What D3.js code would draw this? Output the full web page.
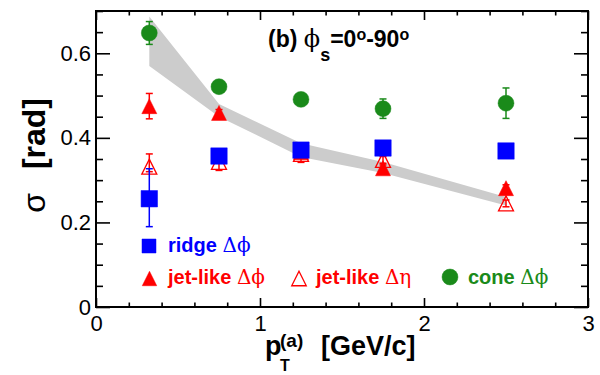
<!DOCTYPE html>
<html><head><meta charset="utf-8">
<script src="https://cdn.jsdelivr.net/npm/d3@7"></script>
<style>
body{margin:0;background:#fff}
svg{display:block}
text{font-family:"Liberation Sans",Arial,Helvetica,sans-serif}
.gr{font-family:"DejaVu Serif","Liberation Serif",serif;font-weight:normal}
</style>
</head><body>
<svg id="chart" width="600" height="375"></svg>
<script>
// ---- data ----
const ptA = [0.325, 0.75, 1.25, 1.75, 2.5];

const ridgeDphi   = [0.256, 0.357, 0.371, 0.376, 0.369];
const ridgeErrHi  = [0.071, 0.006, 0.006, 0.006, 0.006];
const ridgeErrLo  = [0.066, 0.006, 0.006, 0.006, 0.006];

const jetDphi     = [0.475, 0.459, 0.366, 0.328, 0.281];
const jetDphiErr  = [0.030, 0.008, 0.008, 0.008, 0.008];

const jetDeta     = [0.332, 0.343, 0.362, 0.348, 0.245];
const jetDetaErrHi = [0.030, 0.008, 0.008, 0.008, 0.008];
const jetDetaErrLo = [0.012, 0.020, 0.020, 0.008, 0.008];

const coneDphi    = [0.648, 0.521, 0.491, 0.469, 0.482];
const coneErr     = [0.027, 0.008, 0.008, 0.023, 0.036];

const bandX  = [0.325, 0.75, 1.25, 1.75, 2.5];
const bandHi = [0.687, 0.480, 0.387, 0.343, 0.260];
const bandLo = [0.570, 0.450, 0.355, 0.317, 0.240];

const xMajor = [0, 1, 2, 3];
const xTickLabels = ["0", "1", "2", "3"];
const yMajor = [0, 0.2, 0.4, 0.6];
const yTickLabels = ["0", "0.2", "0.4", "0.6"];

// ---- layout ----
const L = 96, R = 588, T = 11, B = 307;
const BLUE = "#0000ff", RED = "#ff0000", GREEN = "#1a8a1a";

const svg = d3.select("#chart");
const x = d3.scaleLinear().domain([0, 3]).range([L, R]);
const y = d3.scaleLinear().domain([0, 0.7]).range([B, T]);

// band
const bandData = bandX.map((v, i) => ({x: v, hi: bandHi[i], lo: bandLo[i]}));
svg.append("path")
  .datum(bandData)
  .attr("fill", "#cccccc")
  .attr("d", d3.area().x(d => x(d.x)).y0(d => y(d.lo)).y1(d => y(d.hi)));

// axes
const xMinor = d3.range(0, 3.0001, 0.2).filter(v => Math.abs(v - Math.round(v)) > 1e-6);
const yMinor = d3.range(0, 0.7001, 0.05).filter(v => Math.abs(v / 0.2 - Math.round(v / 0.2)) > 1e-6);

function styleAxis(g) {
  g.select(".domain").remove();
  g.selectAll("line").attr("stroke", "#000").attr("stroke-width", 1.6);
  g.selectAll("text").attr("font-size", 22).attr("fill", "#000");
}

svg.append("g").attr("transform", `translate(0,${B})`)
  .call(d3.axisBottom(x).tickValues(xMajor).tickSize(-9).tickPadding(8.5)
        .tickFormat((d, i) => xTickLabels[i]))
  .call(styleAxis);
svg.append("g").attr("transform", `translate(0,${B})`)
  .call(d3.axisBottom(x).tickValues(xMinor).tickSize(-4.5).tickFormat(""))
  .call(styleAxis);
svg.append("g").attr("transform", `translate(0,${T})`)
  .call(d3.axisTop(x).tickValues(xMajor).tickSize(-9).tickFormat(""))
  .call(styleAxis);
svg.append("g").attr("transform", `translate(0,${T})`)
  .call(d3.axisTop(x).tickValues(xMinor).tickSize(-4.5).tickFormat(""))
  .call(styleAxis);

svg.append("g").attr("transform", `translate(${L},0)`)
  .call(d3.axisLeft(y).tickValues(yMajor).tickSize(-14).tickPadding(5)
        .tickFormat((d, i) => yTickLabels[i]))
  .call(styleAxis);
svg.append("g").attr("transform", `translate(${L},0)`)
  .call(d3.axisLeft(y).tickValues(yMinor).tickSize(-7).tickFormat(""))
  .call(styleAxis);
svg.append("g").attr("transform", `translate(${R},0)`)
  .call(d3.axisRight(y).tickValues(yMajor).tickSize(-14).tickFormat(""))
  .call(styleAxis);
svg.append("g").attr("transform", `translate(${R},0)`)
  .call(d3.axisRight(y).tickValues(yMinor).tickSize(-7).tickFormat(""))
  .call(styleAxis);

// frame
svg.append("rect").attr("x", L).attr("y", T).attr("width", R - L).attr("height", B - T)
  .attr("fill", "none").attr("stroke", "#000").attr("stroke-width", 2);

// marker shapes
const triType = {
  draw(ctx, size) {
    const w = Math.sqrt(size), h = w;
    ctx.moveTo(0, -h / 2);
    ctx.lineTo(w / 2, h / 2);
    ctx.lineTo(-w / 2, h / 2);
    ctx.closePath();
  }
};
const symSquare = d3.symbol().type(d3.symbolSquare);
const symCircle = d3.symbol().type(d3.symbolCircle);
const symTri = d3.symbol().type(triType);

function series(vals, hi, lo, color, sym, size, filled) {
  const data = ptA.map((p, i) => ({p, v: vals[i], hi: hi[i], lo: lo[i]}));
  const g = svg.append("g");
  const eb = g.selectAll(".eb").data(data).enter().append("g")
    .attr("stroke", color).attr("stroke-width", 1.5);
  eb.append("line").attr("x1", d => x(d.p)).attr("x2", d => x(d.p))
    .attr("y1", d => y(d.v + d.hi)).attr("y2", d => y(d.v - d.lo));
  eb.append("line").attr("x1", d => x(d.p) - 3.5).attr("x2", d => x(d.p) + 3.5)
    .attr("y1", d => y(d.v + d.hi)).attr("y2", d => y(d.v + d.hi));
  eb.append("line").attr("x1", d => x(d.p) - 3.5).attr("x2", d => x(d.p) + 3.5)
    .attr("y1", d => y(d.v - d.lo)).attr("y2", d => y(d.v - d.lo));
  g.selectAll(".m").data(data).enter().append("path")
    .attr("transform", d => `translate(${x(d.p)},${y(d.v)})`)
    .attr("d", sym.size(size)())
    .attr("fill", filled ? color : "#fff")
    .attr("fill-opacity", filled ? 1 : 0)
    .attr("stroke", color)
    .attr("stroke-width", filled ? 0.5 : 1.3);
}

series(jetDeta, jetDetaErrHi, jetDetaErrLo, RED, symTri, 225, false);
series(jetDphi, jetDphiErr, jetDphiErr, RED, symTri, 225, true);
series(ridgeDphi, ridgeErrHi, ridgeErrLo, BLUE, symSquare, 270, true);
series(coneDphi, coneErr, coneErr, GREEN, symCircle, 200, true);

// legend
const legend = [
  {label: "ridge ", greek: "Δϕ", color: BLUE, sym: symSquare, size: 196, filled: true, mx: 149, my: 246, tx: 168, ty: 252},
  {label: "jet-like ", greek: "Δϕ", color: RED, sym: symTri, size: 210, filled: true, mx: 149.5, my: 278.5, tx: 168, ty: 283.5},
  {label: "jet-like ", greek: "Δη", color: RED, sym: symTri, size: 210, filled: false, mx: 299, my: 278.5, tx: 316, ty: 283.5},
  {label: "cone ", greek: "Δϕ", color: GREEN, sym: symCircle, size: 200, filled: true, mx: 450, my: 277, tx: 468, ty: 283.5}
];
const lg = svg.append("g");
legend.forEach(d => {
  lg.append("path").attr("transform", `translate(${d.mx},${d.my})`)
    .attr("d", d.sym.size(d.size)())
    .attr("fill", d.filled ? d.color : "none")
    .attr("stroke", d.color).attr("stroke-width", d.filled ? 0.5 : 1.3);
  const t = lg.append("text").attr("x", d.tx).attr("y", d.ty).attr("fill", d.color).attr("font-size", 20);
  t.append("tspan").attr("font-weight", "bold").text(d.label);
  t.append("tspan").attr("class", "gr").attr("font-size", 20).text(d.greek);
});

// title
const title = svg.append("text").attr("x", 268).attr("y", 47).attr("font-size", 23).attr("fill", "#000");
title.append("tspan").attr("font-weight", "bold").text("(b) ");
title.append("tspan").attr("class", "gr").attr("font-size", 24).text("ϕ");
title.append("tspan").attr("font-weight", "bold").attr("font-size", 18).attr("y", 61).text("s");
title.append("tspan").attr("font-weight", "bold").attr("y", 47).text("=0");
title.append("tspan").attr("font-weight", "bold").attr("font-size", 16).attr("y", 40).text("o");
title.append("tspan").attr("font-weight", "bold").attr("y", 47).text("-90");
title.append("tspan").attr("font-weight", "bold").attr("font-size", 16).attr("y", 40).text("o");

// x axis title
const xt = svg.append("text").attr("y", 355).attr("font-weight", "bold").attr("fill", "#000").attr("font-size", 27);
xt.append("tspan").attr("x", 265).text("p");
xt.append("tspan").attr("x", 280).attr("y", 347).attr("font-size", 19).text("(a)");
xt.append("tspan").attr("x", 280).attr("y", 371).attr("font-size", 16).text("T");
xt.append("tspan").attr("x", 321).attr("y", 355).text("[GeV/c]");

// y axis title
const yt = svg.append("text").attr("transform", "translate(45,98) rotate(-90)")
  .attr("text-anchor", "end").attr("font-size", 32).attr("fill", "#000");
yt.append("tspan").text("σ");
yt.append("tspan").attr("dx", 24).attr("font-weight", "bold").text("[rad]");
</script>
</body></html>
